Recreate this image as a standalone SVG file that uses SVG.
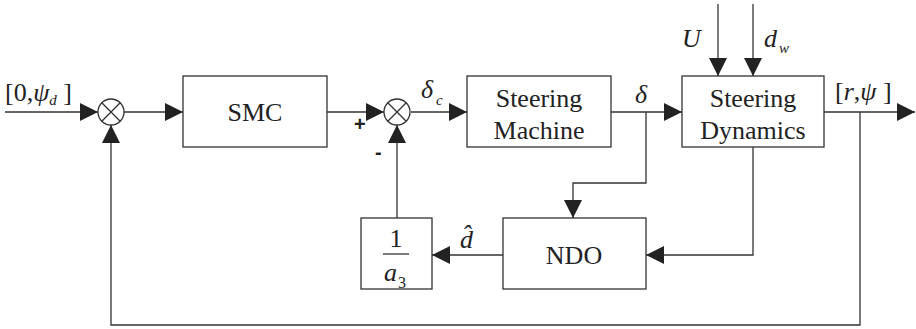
<svg xmlns="http://www.w3.org/2000/svg" width="916" height="329" viewBox="0 0 916 329">
<style>
.b{fill:#fff;stroke:#333;stroke-width:1.3}
.l{fill:none;stroke:#333;stroke-width:1.3}
text{font-family:'Liberation Serif','Times New Roman',serif;fill:#222}
.t{font-size:26px;text-anchor:middle}
.m{font-size:26px;font-style:italic}
.s{font-size:15px;font-style:italic}
.p{font-family:'Liberation Sans',Arial,sans-serif;font-size:20px;font-weight:bold}
</style>
<defs>
<marker id="a" markerUnits="userSpaceOnUse" markerWidth="18" markerHeight="18" refX="18" refY="9" orient="auto"><path d="M0,0 L18,9 L0,18 z" fill="#222"/></marker>
</defs>
<g id="connectors">
<path class="l" d="M5,112 H98" marker-end="url(#a)"/>
<path class="l" d="M124,112 H183" marker-end="url(#a)"/>
<path class="l" d="M327,112 H384" marker-end="url(#a)"/>
<path class="l" d="M411,112 H467" marker-end="url(#a)"/>
<path class="l" d="M611,112 H682" marker-end="url(#a)"/>
<path class="l" d="M824,112 H915" marker-end="url(#a)"/>
<path class="l" d="M718,4 V76" marker-end="url(#a)"/>
<path class="l" d="M753,4 V76" marker-end="url(#a)"/>
<path class="l" d="M860,112 V325 H111 V125" marker-end="url(#a)"/>
<path class="l" d="M646,112 V183 H573 V218" marker-end="url(#a)"/>
<path class="l" d="M753,147 V255 H646" marker-end="url(#a)"/>
<path class="l" d="M503,255 H432" marker-end="url(#a)"/>
<path class="l" d="M397,218 V125" marker-end="url(#a)"/>
</g>
<g id="sum1">
<circle class="b" cx="111" cy="112" r="13"/>
<path class="l" d="M101.8,102.8 L120.2,121.2 M120.2,102.8 L101.8,121.2"/>
</g>
<g id="sum2">
<circle class="b" cx="397" cy="112" r="13"/>
<path class="l" d="M387.8,102.8 L406.2,121.2 M406.2,102.8 L387.8,121.2"/>
<text class="p" x="354" y="131">+</text>
<text class="p" x="375" y="159">-</text>
</g>
<g id="smc">
<rect class="b" x="183" y="76" width="144" height="71"/>
<text class="t" x="255" y="121">SMC</text>
</g>
<g id="steering-machine">
<rect class="b" x="467" y="76" width="144" height="71"/>
<text class="t" x="539" y="107">Steering</text>
<text class="t" x="539" y="139">Machine</text>
</g>
<g id="steering-dynamics">
<rect class="b" x="682" y="76" width="142" height="71"/>
<text class="t" x="753" y="107">Steering</text>
<text class="t" x="753" y="139">Dynamics</text>
</g>
<g id="ndo">
<rect class="b" x="503" y="218" width="143" height="71"/>
<text class="t" x="574" y="264">NDO</text>
</g>
<g id="gain">
<rect class="b" x="361" y="218" width="71" height="71"/>
<text class="t" x="396" y="247">1</text>
<path class="l" d="M383,254 H409"/>
<text class="m" x="384" y="281">a</text>
<text style="font-size:16px" x="398" y="288">3</text>
</g>
<g id="labels">
<text x="5" y="101" style="font-size:26px">[0,<tspan font-style="italic">ψ</tspan><tspan font-style="italic" font-size="15" dy="4">d</tspan><tspan dy="-4"> ]</tspan></text>
<text class="m" x="421" y="98">δ</text>
<text class="s" x="436" y="105">c</text>
<text class="m" x="635" y="103">δ</text>
<text class="m" x="682" y="47">U</text>
<text class="m" x="764" y="47">d</text>
<text class="s" x="779" y="53">w</text>
<text x="835" y="100" style="font-size:26px">[<tspan font-style="italic">r</tspan>,<tspan font-style="italic">ψ</tspan> ]</text>
<text class="m" x="460" y="248">d&#x302;</text>
</g>
</svg>
